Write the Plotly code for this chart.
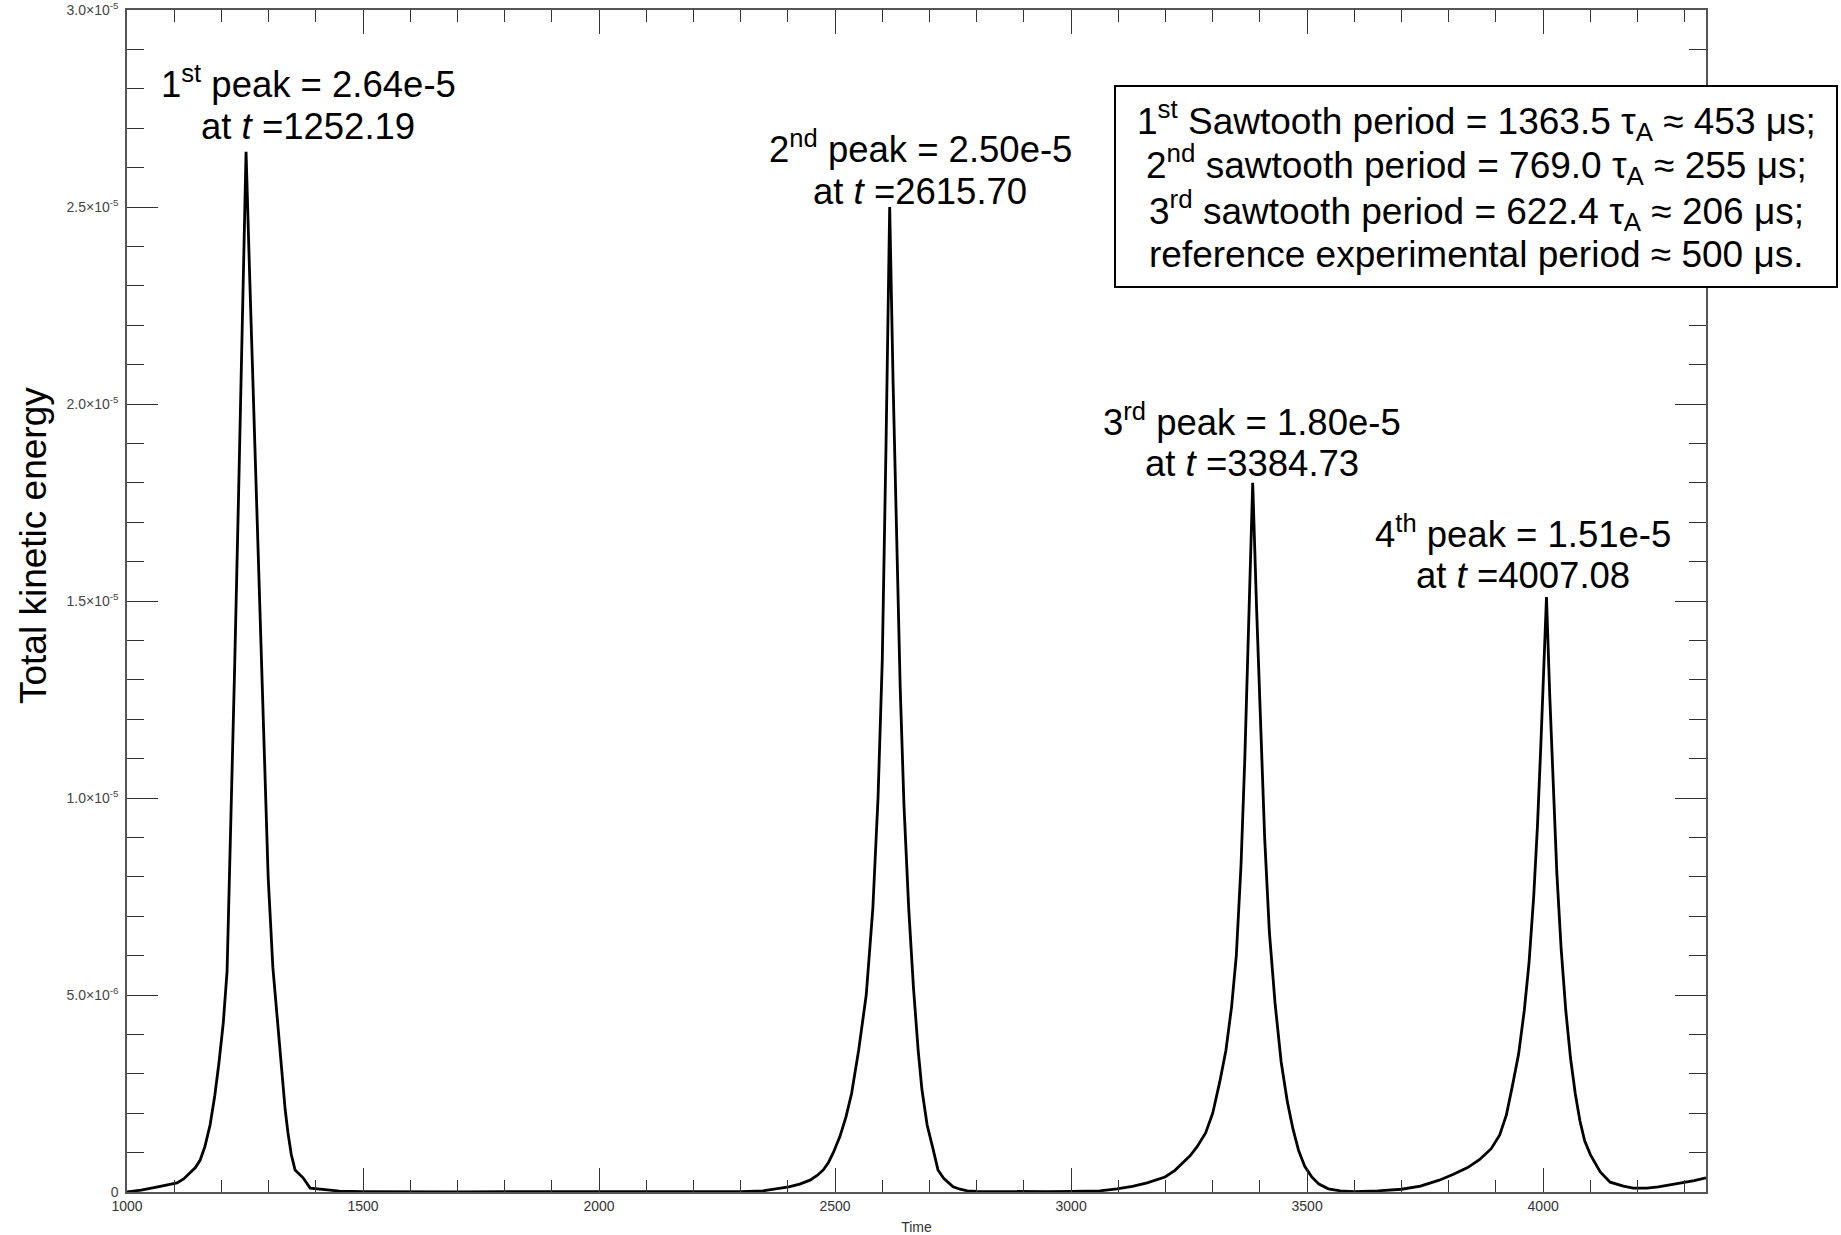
import plotly.graph_objects as go

# Total kinetic energy history (energy in units of 1e-6); the four maxima are listed separately
time = [
    1000, 1030, 1060, 1090, 1106, 1120, 1133, 1145, 1155, 1165, 1176, 1186, 1195, 1204, 1212, 1220, 1228, 1236, 1244,
    1260, 1270, 1280, 1290, 1299, 1309, 1318, 1328, 1335, 1341, 1348, 1356, 1365, 1373, 1388, 1410, 1430, 1450,
    1500, 1700, 1900, 2100, 2200, 2300,
    2347, 2380, 2402, 2425, 2447, 2462, 2475, 2486, 2496, 2510, 2523, 2535, 2550, 2566, 2580, 2591, 2600, 2608,
    2623, 2630, 2638, 2646, 2656, 2666, 2676, 2684, 2695, 2708, 2718, 2730, 2740, 2750, 2765, 2780, 2800,
    2850, 2950, 3000,
    3061, 3097, 3130, 3161, 3180, 3199, 3220, 3237, 3252, 3267, 3285, 3300, 3315, 3328, 3340, 3350, 3360, 3368, 3376,
    3393, 3401, 3410, 3420, 3432, 3445, 3458, 3470, 3482, 3495, 3510, 3525, 3545, 3570, 3600,
    3650, 3700, 3740, 3780, 3810, 3840, 3865, 3890, 3908, 3922, 3935, 3948, 3960, 3970, 3980, 3988, 3995, 4001,
    4014, 4021, 4029, 4038, 4048, 4058, 4068, 4078, 4088, 4100, 4121, 4142, 4170, 4191, 4220, 4244, 4270, 4290, 4320, 4345,
]
energy_e6 = [
    0.00, 0.05, 0.12, 0.18, 0.23, 0.33, 0.48, 0.62, 0.81, 1.15, 1.70, 2.45, 3.3, 4.3, 5.6, 9.3, 13.3, 17.5, 22.0,
    23.2, 19.3, 15.2, 11.2, 8.0, 5.7, 4.4, 2.9, 2.1, 1.5, 0.95, 0.56, 0.45, 0.36, 0.10, 0.08, 0.05, 0.02,
    0.01, 0.005, 0.005, 0.006, 0.008, 0.012,
    0.03, 0.08, 0.13, 0.20, 0.30, 0.42, 0.56, 0.75, 0.99, 1.4, 1.9, 2.5, 3.6, 5.0, 7.2, 10.0, 13.5, 19.0,
    20.5, 16.5, 12.8, 9.8, 7.2, 5.2, 3.6, 2.6, 1.7, 1.07, 0.56, 0.35, 0.23, 0.13, 0.07, 0.03, 0.015,
    0.01, 0.01, 0.015,
    0.03, 0.08, 0.14, 0.23, 0.30, 0.38, 0.55, 0.74, 0.92, 1.15, 1.5, 2.0, 2.8, 3.6, 4.7, 6.0, 8.3, 11.0, 14.3,
    14.8, 11.8, 9.0, 6.6, 4.8, 3.3, 2.3, 1.6, 1.05, 0.65, 0.38, 0.2, 0.08, 0.03, 0.01,
    0.03, 0.07, 0.15, 0.30, 0.45, 0.62, 0.82, 1.10, 1.45, 1.95, 2.7, 3.5, 4.6, 5.8, 7.5, 9.3, 11.3, 13.2,
    12.6, 10.3, 8.1, 6.2, 4.6, 3.4, 2.5, 1.8, 1.3, 0.95, 0.51, 0.25, 0.15, 0.10, 0.10, 0.13, 0.18, 0.23, 0.29, 0.36,
]

peak_time = [1252.19, 2615.70, 3384.73, 4007.08]
peak_energy = [2.64e-5, 2.50e-5, 1.80e-5, 1.51e-5]
peak_ordinal = ["1<sup>st</sup>", "2<sup>nd</sup>", "3<sup>rd</sup>", "4<sup>th</sup>"]

period_ordinal = ["1<sup>st</sup> Sawtooth", "2<sup>nd</sup> sawtooth", "3<sup>rd</sup> sawtooth"]
period_tau = [1363.5, 769.0, 622.4]
period_us = [453, 255, 206]
experimental_period_us = 500

xtick_vals = [1000, 1500, 2000, 2500, 3000, 3500, 4000]
ytick_vals = [0, 5e-6, 1e-5, 1.5e-5, 2e-5, 2.5e-5, 3e-5]
ytick_text = ["0", "5.0×10<sup>-6</sup>", "1.0×10<sup>-5</sup>", "1.5×10<sup>-5</sup>",
              "2.0×10<sup>-5</sup>", "2.5×10<sup>-5</sup>", "3.0×10<sup>-5</sup>"]

# merge the flanks with the peak maxima into one time-ordered curve
points = sorted(list(zip(time, [e * 1e-6 for e in energy_e6])) + list(zip(peak_time, peak_energy)))
t_all = [p[0] for p in points]
e_all = [p[1] for p in points]

FONT = "Liberation Sans, Arial, sans-serif"
W, H = 1841, 1235
PL, PR, PT, PB = 127, 1706, 10, 1192   # plot-area edges in pixels


def px(x):
    return (x - PL) / (PR - PL)


def py(y):
    return (PB - y) / (PB - PT)


fig = go.Figure()
fig.add_trace(go.Scatter(x=t_all, y=e_all, mode="lines",
                         line=dict(color="black", width=2.8), showlegend=False))

# peak labels: one annotation per text line, positioned in pixels
label_cx = [308, 920, 1252, 1523]
label_cy = [(82, 126), (147, 192), (420, 464), (532, 575)]
for i in range(len(peak_time)):
    mant = peak_energy[i] / 1e-5
    texts = [f"{peak_ordinal[i]} peak = {mant:.2f}e-5", f"at <i>t</i> ={peak_time[i]:.2f}"]
    for txt, cy in zip(texts, label_cy[i]):
        fig.add_annotation(x=px(label_cx[i]), y=py(cy), xref="paper", yref="paper", text=txt,
                           showarrow=False, xanchor="center", yanchor="middle",
                           font=dict(family=FONT, size=36.5, color="black"))

# sawtooth period summary box
fig.add_shape(type="rect", xref="paper", yref="paper", x0=px(1115), x1=px(1837),
              y0=py(287), y1=py(86), line=dict(color="black", width=2),
              fillcolor="white", layer="above")
box_lines = [f"{period_ordinal[i]} period = {period_tau[i]:.1f} τ<sub>A</sub> ≈ {period_us[i]} μs;"
             for i in range(len(period_tau))]
box_lines.append(f"reference experimental period ≈ {experimental_period_us} μs.")
for txt, cy in zip(box_lines, [120, 165, 210, 254]):
    fig.add_annotation(x=px(1476), y=py(cy), xref="paper", yref="paper", text=txt,
                       showarrow=False, xanchor="center", yanchor="middle",
                       font=dict(family=FONT, size=37, color="black"))

# y-axis title
fig.add_annotation(x=px(33), y=py(546), xref="paper", yref="paper", text="Total kinetic energy",
                   textangle=-90, showarrow=False, xanchor="center", yanchor="middle",
                   font=dict(family=FONT, size=37, color="black"))

axis_common = dict(showline=True, linecolor="#555555", linewidth=1.5, mirror="ticks",
                   showgrid=False, zeroline=False, ticks="inside", tickcolor="#333333",
                   tickwidth=1.3, ticklabeloverflow="allow")

fig.update_xaxes(range=[1000, 4345], tickmode="array", tickvals=xtick_vals, ticklen=24,
                 tickfont=dict(family=FONT, size=14, color="#333333"),
                 minor=dict(tickmode="linear", tick0=1000, dtick=100, ticks="inside",
                            ticklen=12, tickcolor="#333333", tickwidth=1.2, showgrid=False),
                 title=dict(text="Time", font=dict(family=FONT, size=14, color="#333333"), standoff=11),
                 **axis_common)
fig.update_yaxes(range=[0, 3e-5], tickmode="array", tickvals=ytick_vals, ticktext=ytick_text,
                 ticklen=31, tickfont=dict(family=FONT, size=14, color="#444444"),
                 ticklabelstandoff=4,
                 minor=dict(tickmode="linear", tick0=0, dtick=1e-6, ticks="inside",
                            ticklen=17, tickcolor="#333333", tickwidth=1.2, showgrid=False),
                 **axis_common)

fig.update_layout(width=W, height=H, margin=dict(l=PL, r=W - PR, t=PT, b=H - PB, autoexpand=False),
                  paper_bgcolor="white", plot_bgcolor="white")

fig.write_html("out.html")
